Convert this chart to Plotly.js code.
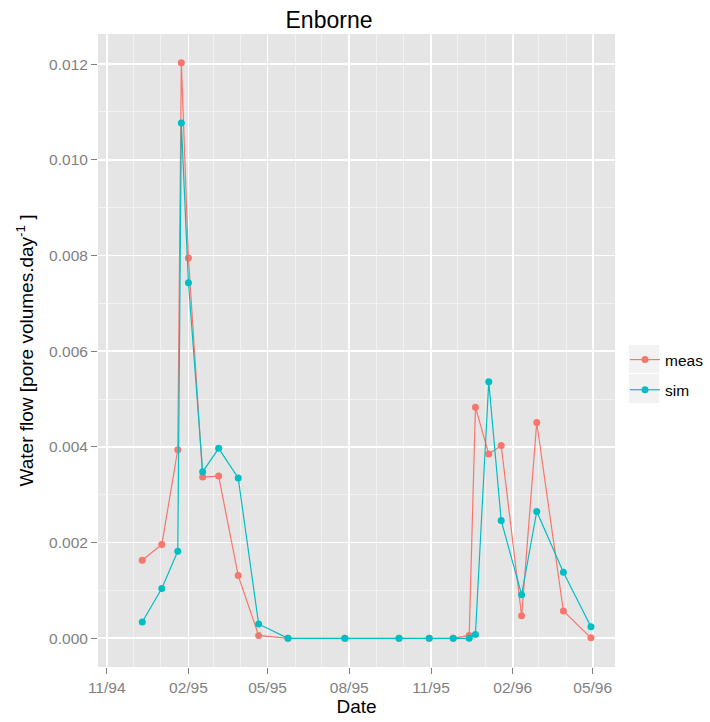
<!DOCTYPE html>
<html>
<head>
<meta charset="utf-8">
<script src="https://cdn.plot.ly/plotly-3.0.1.min.js"></script>
<style>
  html, body { margin: 0; padding: 0; background: #ffffff; }
  #chart { width: 710px; height: 722px; }
</style>
</head>
<body>
<div id="chart"></div>
<script>
// Sampling dates (shared by both series)
const dates = [
  '1994-12-11', '1995-01-02', '1995-01-20', '1995-01-24', '1995-02-01',
  '1995-02-17', '1995-03-07', '1995-03-29', '1995-04-21', '1995-05-24',
  '1995-07-27', '1995-09-26', '1995-10-30', '1995-11-26', '1995-12-14',
  '1995-12-21', '1996-01-05', '1996-01-19', '1996-02-11', '1996-02-28',
  '1996-03-29', '1996-04-29'
];

// Measured water flow [pore volumes per day]
const meas = [
  0.00163, 0.00196, 0.00394, 0.01203, 0.00795,
  0.00337, 0.00339, 0.00131, 0.00006, 0.00000,
  0.00000, 0.00000, 0.00000, 0.00000, 0.00006,
  0.00483, 0.00385, 0.00403, 0.00047, 0.00451,
  0.00057, 0.00001
];

// Simulated water flow [pore volumes per day]
const sim = [
  0.00034, 0.00104, 0.00182, 0.01077, 0.00743,
  0.00348, 0.00397, 0.00335, 0.00030, 0.00000,
  0.00000, 0.00000, 0.00000, 0.00000, 0.00000,
  0.00008, 0.00536, 0.00246, 0.00091, 0.00265,
  0.00138, 0.00024
];

const seriesNames = ['meas', 'sim'];
const seriesColors = ['#F8766D', '#00BFC4'];

const W = 710, H = 722;
const M = { l: 98, r: 95, t: 34, b: 55, autoexpand: false };
const plotW = W - M.l - M.r, plotH = H - M.t - M.b;
const px2x = p => (p - M.l) / plotW;
const px2y = p => (H - M.b - p) / plotH;

const font = 'Liberation Sans, Arial, sans-serif';

const traces = [meas, sim].map((vals, i) => ({
  type: 'scatter',
  mode: 'lines+markers',
  name: seriesNames[i],
  legendgroup: seriesNames[i],
  x: dates,
  y: vals,
  line: { color: seriesColors[i], width: 1.2 },
  marker: { color: seriesColors[i], size: 7, symbol: 'circle' },
  hoverinfo: 'x+y+name'
}));

// grey key backgrounds behind the legend symbols
const keyBoxes = [[345, 373], [374, 403]].map(([y0, y1]) => ({
  type: 'rect', xref: 'paper', yref: 'paper', layer: 'below',
  x0: px2x(629), x1: px2x(659), y0: px2y(y1), y1: px2y(y0),
  fillcolor: '#F2F2F2', line: { width: 0 }
}));

const layout = {
  width: W, height: H,
  margin: M,
  paper_bgcolor: '#ffffff',
  plot_bgcolor: '#E5E5E5',
  font: { family: font, color: '#000000' },
  title: {
    text: 'Enborne',
    font: { family: font, size: 23, color: '#000000' },
    xref: 'paper', x: px2x(329), xanchor: 'center',
    yref: 'container', y: 1 - 20 / H, yanchor: 'middle'
  },
  xaxis: {
    type: 'date',
    range: ['1994-10-22 05:00', '1996-05-26 02:00'],
    tick0: '1994-11-01', dtick: 'M3', tickformat: '%m/%y',
    ticks: 'outside', ticklen: 6, tickwidth: 1, tickcolor: '#7F7F7F',
    tickfont: { family: font, size: 15.5, color: '#7F7F7F' },
    showgrid: true, gridcolor: '#FFFFFF', gridwidth: 1.6,
    minor: { dtick: 'M1', tick0: '1994-11-01', showgrid: true, gridcolor: '#F2F2F2', gridwidth: 0.9, ticks: '' },
    zeroline: false, showline: false,
    title: { text: 'Date', font: { family: font, size: 19, color: '#000000' }, standoff: 4 }
  },
  yaxis: {
    range: [-0.0006, 0.01263],
    tick0: 0, dtick: 0.002, tickformat: '.3f',
    ticks: 'outside', ticklen: 6, tickwidth: 1, tickcolor: '#7F7F7F',
    tickfont: { family: font, size: 15.5, color: '#7F7F7F' },
    showgrid: true, gridcolor: '#FFFFFF', gridwidth: 1.6,
    minor: { dtick: 0.001, tick0: 0, showgrid: true, gridcolor: '#F2F2F2', gridwidth: 0.9, ticks: '' },
    zeroline: false, showline: false,
    title: { text: 'Water flow [pore volumes.day<sup>-1</sup> ]', font: { family: font, size: 19, color: '#000000' }, standoff: 10 }
  },
  showlegend: true,
  legend: {
    x: px2x(625), xanchor: 'left',
    y: px2y(343), yanchor: 'top',
    bgcolor: 'rgba(0,0,0,0)',
    font: { family: font, size: 15.5, color: '#000000' },
    tracegroupgap: 7,
    itemclick: false, itemdoubleclick: false
  },
  shapes: keyBoxes
};

Plotly.newPlot('chart', traces, layout, { displayModeBar: false, staticPlot: true });
</script>
</body>
</html>
